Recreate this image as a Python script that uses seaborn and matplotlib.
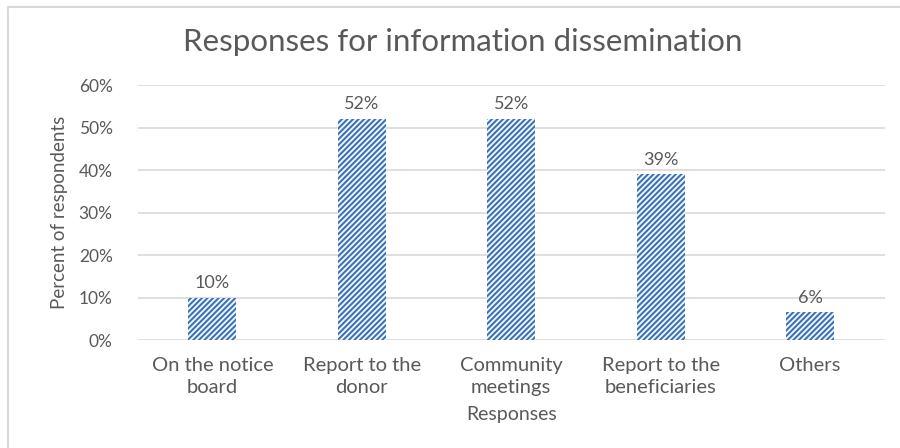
import matplotlib
matplotlib.use("Agg")
import matplotlib.pyplot as plt
import seaborn as sns
import pandas as pd
from matplotlib.lines import Line2D

categories = ["On the notice\nboard", "Report to the\ndonor", "Community\nmeetings",
              "Report to the\nbeneficiaries", "Others"]
values = [10, 52, 52, 39, 6.5]
yticks = [0, 10, 20, 30, 40, 50, 60]

sns.set_theme(style="white")
plt.rcParams['font.family'] = ['Lato', 'DejaVu Sans']
plt.rcParams['hatch.linewidth'] = 1.5
plt.rcParams['hatch.color'] = '#3D74B6'

fig = plt.figure(figsize=(9, 4.48), dpi=100)
ax = fig.add_axes([0.153, 0.241, 0.830, 0.569])

df = pd.DataFrame({"cat": categories, "val": values})
sns.barplot(data=df, x="cat", y="val", ax=ax, width=0.32, color="white",
            edgecolor="none", linewidth=0)
for p in ax.patches:
    p.set_hatch("//////")
    p.set_facecolor("#F4F8FC")
    p.set_edgecolor('#3D74B6')
    p.set_linewidth(0)

gray = "#595959"
ax.set_ylim(0, 60)
ax.set_yticks(yticks)
ax.set_yticklabels([f"{t}%" for t in yticks], color=gray, fontsize=12.5)
ax.tick_params(axis='x', colors=gray, labelsize=14.5, length=0, pad=12)
ax.tick_params(axis='y', length=0, pad=18)
for lbl in ax.get_xticklabels():
    lbl.set_linespacing(1.4)
ax.grid(axis='y', color='#D9D9D9', linewidth=1.2)
ax.set_axisbelow(True)
for s in ax.spines.values():
    s.set_visible(False)
ax.set_xlim(-0.5, 4.5)

for i, v in enumerate(values):
    ax.text(i, v + 1.6, f"{v:.0f}%", ha='center', va='bottom', color=gray, fontsize=13)

ax.set_xlabel("Responses", color=gray, fontsize=14, labelpad=7)
ax.set_ylabel("Percent of respondents", color=gray, fontsize=13.5, labelpad=8)
fig.text(0.514, 0.906, "Responses for information dissemination", ha='center',
         va='center', color=gray, fontsize=22.5)

fig.add_artist(Line2D([0.009, 0.009], [0.0, 0.985], color='#D9D9D9', lw=1.5, transform=fig.transFigure))
fig.add_artist(Line2D([0.009, 1.0], [0.985, 0.985], color='#D9D9D9', lw=1.5, transform=fig.transFigure))

fig.savefig("out.png", dpi=100, facecolor="white")
